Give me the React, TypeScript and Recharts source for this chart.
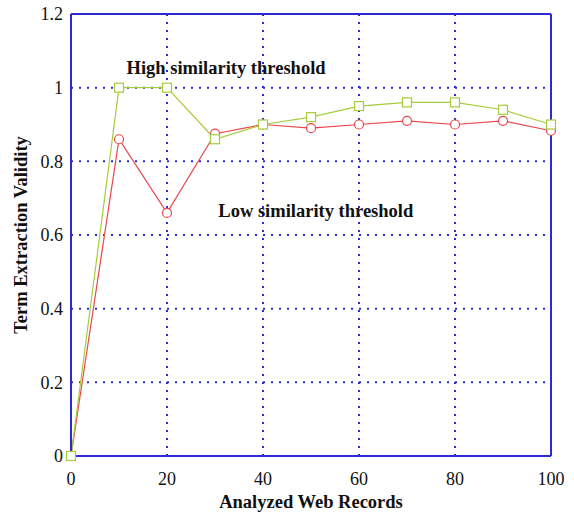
import { LineChart, Line, XAxis, YAxis, CartesianGrid, ReferenceLine, ReferenceDot, Label } from "recharts";

const records = [0, 10, 20, 30, 40, 50, 60, 70, 80, 90, 100];
const highThreshold = [0, 1.0, 1.0, 0.86, 0.9, 0.92, 0.95, 0.96, 0.96, 0.94, 0.9];
const lowThreshold = [0, 0.86, 0.66, 0.875, 0.9, 0.89, 0.9, 0.91, 0.9, 0.91, 0.883];

const xTicks = [0, 20, 40, 60, 80, 100];
const yTicks = [0, 0.2, 0.4, 0.6, 0.8, 1, 1.2];

const highLabel = "High similarity threshold";
const lowLabel = "Low similarity threshold";

const data = records.map((r, i) => ({
  records: r,
  high: highThreshold[i],
  low: lowThreshold[i],
}));

const FONT = "'Liberation Serif', 'Times New Roman', serif";
const BLUE = "#2a2ad8";
const boldText = { fill: "#111", fontSize: 18.5, fontWeight: 700, fontFamily: FONT };

function SquareDot(props: any) {
  const { cx, cy } = props;
  if (cx == null || cy == null) return null;
  return <rect x={cx - 4.5} y={cy - 4.5} width={9} height={9} fill="#fff" stroke="#a6cc3a" strokeWidth={1.2} />;
}

export default function App() {
  return (
    <div style={{ position: "absolute", left: 0, top: 0, background: "#fff" }}>
      <LineChart
        width={574}
        height={513}
        data={data}
        margin={{ top: 14, right: 23, bottom: 0, left: 0 }}
        style={{ fontFamily: FONT }}
      >
        <CartesianGrid
          stroke={BLUE}
          strokeDasharray="2 6"
          strokeWidth={2}
          horizontalValues={[0.2, 0.4, 0.6, 0.8, 1]}
          verticalValues={[20, 40, 60, 80]}
        />

        <XAxis
          dataKey="records"
          type="number"
          domain={[0, 100]}
          ticks={xTicks}
          height={57}
          tickLine={false}
          tickMargin={10}
          axisLine={{ stroke: BLUE, strokeWidth: 2 }}
          tick={{ fill: "#111", fontSize: 18, fontFamily: FONT }}
        >
          <Label value="Analyzed Web Records" position="insideBottom" offset={5} style={boldText} />
        </XAxis>

        <YAxis
          type="number"
          domain={[0, 1.2]}
          ticks={yTicks}
          width={71}
          tickLine={false}
          axisLine={{ stroke: BLUE, strokeWidth: 2 }}
          tick={{ fill: "#111", fontSize: 18, fontFamily: FONT }}
        >
          <Label
            value="Term Extraction Validity"
            angle={-90}
            position="insideLeft"
            offset={20}
            style={{ ...boldText, textAnchor: "middle" }}
          />
        </YAxis>

        <ReferenceLine x={100} stroke={BLUE} strokeWidth={2} />
        <ReferenceLine y={1.2} stroke={BLUE} strokeWidth={2} />

        <ReferenceDot x={32.3} y={1.054} r={0} stroke="none" fill="none">
          <Label value={highLabel} position="center" style={boldText} />
        </ReferenceDot>
        <ReferenceDot x={51} y={0.666} r={0} stroke="none" fill="none">
          <Label value={lowLabel} position="center" style={boldText} />
        </ReferenceDot>

        <Line
          dataKey="low"
          stroke="#e8474f"
          strokeWidth={1.2}
          dot={{ r: 4.5, fill: "#fff", stroke: "#e8474f", strokeWidth: 1.2 }}
          isAnimationActive={false}
        />
        <Line
          dataKey="high"
          stroke="#a6cc3a"
          strokeWidth={1.2}
          dot={<SquareDot />}
          isAnimationActive={false}
        />
      </LineChart>
    </div>
  );
}
